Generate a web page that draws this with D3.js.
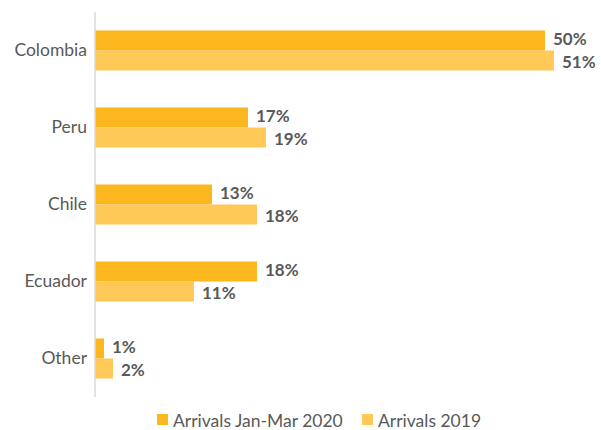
<!DOCTYPE html>
<html>
<head>
<meta charset="utf-8">
<script src="https://cdn.jsdelivr.net/npm/d3@7"></script>
<style>
  html, body { margin: 0; padding: 0; background: #fff; }
  svg { display: block; font-family: Lato, "Open Sans", sans-serif; }
</style>
</head>
<body>
<svg id="chart" width="601" height="430"></svg>
<script>
// Share of arrivals by country of origin
const categories = ["Colombia", "Peru", "Chile", "Ecuador", "Other"];
const arrivals2020 = [50, 17, 13, 18, 1];
const arrivals2019 = [51, 19, 18, 11, 2];
const seriesNames = ["Arrivals Jan-Mar 2020", "Arrivals 2019"];
const seriesColors = ["#FDB71E", "#FFC857"];

const svg = d3.select("#chart");
const axisX = 95;

const x = d3.scaleLinear().domain([0, 55]).range([axisX, axisX + 9 * 55]);
const y = d3.scaleBand().domain(categories).range([12, 397])
  .paddingInner(0.48).paddingOuter(0.24);
const sub = d3.scaleBand().domain([0, 1]).range([0, y.bandwidth()]);

const series = [arrivals2020, arrivals2019];

const groups = svg.append("g").selectAll("g")
  .data(categories)
  .join("g")
  .attr("transform", d => `translate(0,${y(d)})`);

series.forEach((vals, si) => {
  groups.append("rect")
    .attr("x", x(0))
    .attr("y", sub(si))
    .attr("width", (d, i) => x(vals[i]) - x(0))
    .attr("height", sub.bandwidth())
    .attr("fill", seriesColors[si]);

  groups.append("text")
    .attr("x", (d, i) => x(vals[i]) + 8)
    .attr("y", sub(si) + sub.bandwidth() / 2 + (si === 0 ? -1 : 2))
    .attr("dy", "0.35em")
    .attr("fill", "#595959")
    .attr("font-size", 17)
    .attr("font-weight", "bold")
    .text((d, i) => vals[i] + "%");
});

// Category axis
const yAxis = svg.append("g")
  .attr("transform", `translate(${axisX},0)`)
  .call(d3.axisLeft(y).tickSize(0).tickPadding(8));
yAxis.select(".domain").remove();
yAxis.selectAll("text")
  .attr("fill", "#595959")
  .attr("font-size", 17.5)
  .attr("font-family", "Lato, sans-serif");

svg.append("line")
  .attr("x1", axisX).attr("x2", axisX)
  .attr("y1", 12).attr("y2", 397)
  .attr("stroke", "#d9d9d9")
  .attr("stroke-width", 1.5);

// Legend
const legendX = [157, 362];
const legend = svg.append("g").selectAll("g")
  .data(seriesNames)
  .join("g")
  .attr("transform", (d, i) => `translate(${legendX[i]},414)`);
legend.append("rect")
  .attr("width", 11).attr("height", 11)
  .attr("fill", (d, i) => seriesColors[i]);
legend.append("text")
  .attr("x", 16).attr("y", 13)
  .attr("fill", "#595959")
  .attr("font-size", 17.5)
  .text(d => d);
</script>
</body>
</html>
